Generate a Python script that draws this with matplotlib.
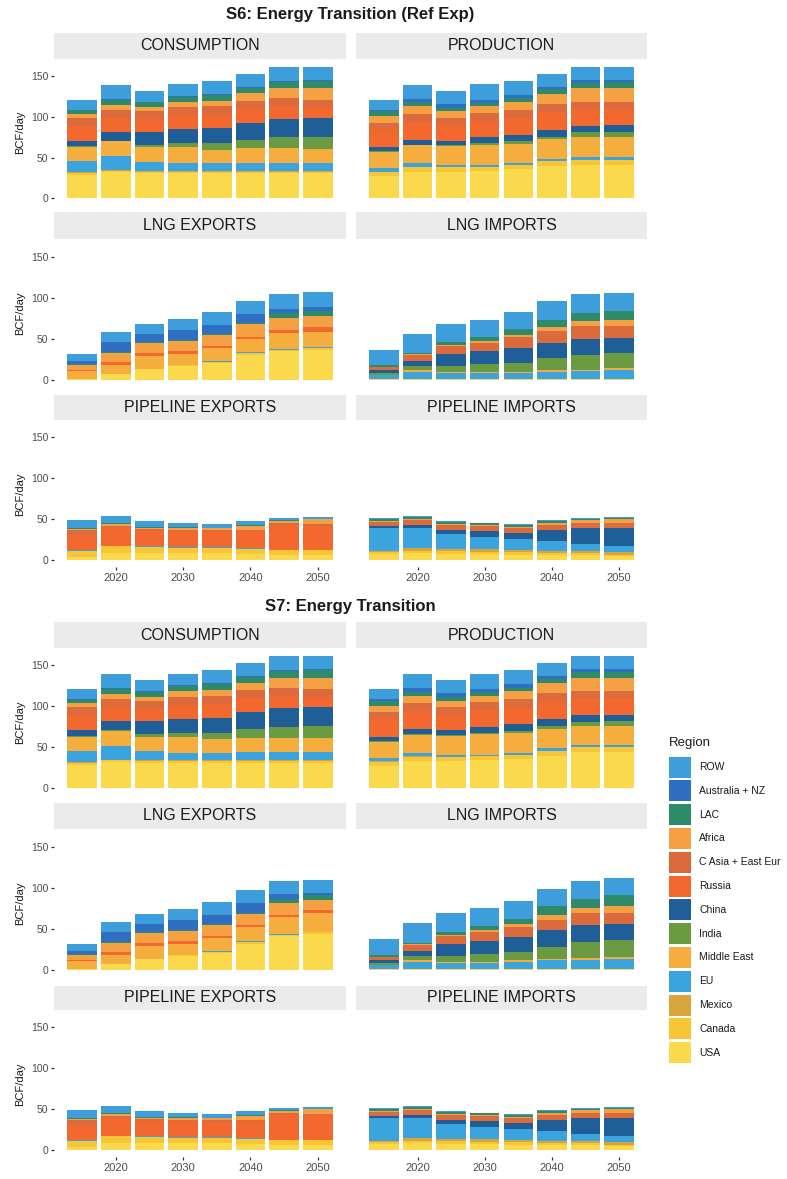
import numpy as np
import matplotlib
matplotlib.use("Agg")
import matplotlib.pyplot as plt
from matplotlib.patches import Rectangle

plt.rcParams["font.family"] = ["Liberation Sans", "DejaVu Sans"]

years = [2015, 2020, 2025, 2030, 2035, 2040, 2045, 2050]
x_ticks = [2020, 2030, 2040, 2050]
y_ticks = [0, 50, 100, 150]

# stacking order, bottom to top
regions = ["USA", "Canada", "Mexico", "EU", "Middle East", "India", "China",
           "Russia", "C Asia + East Eur", "Africa", "LAC", "Australia + NZ", "ROW"]
region_colors = ["#FAD94C", "#F8C535", "#D8A53C", "#3BA3DE", "#F5AE3E", "#6A9A42",
                 "#1F5E97", "#F2682E", "#DB6A3D", "#F5A042", "#2E8A68", "#2E6FC2",
                 "#3E9DDB"]

panel_names = ["CONSUMPTION", "PRODUCTION", "LNG EXPORTS", "LNG IMPORTS",
               "PIPELINE EXPORTS", "PIPELINE IMPORTS"]

# one row per year, columns follow `regions`
s6_consumption = [
    [29, 2, 1, 14, 17, 1, 7, 18, 10, 5, 4, 1, 12],
    [32, 2, 1, 17, 18, 1, 11, 17, 10, 6, 6, 1, 17],
    [31, 2, 1, 11, 18, 3, 16, 15, 10, 5, 6, 1, 13],
    [31, 2, 1, 9, 20, 5, 17, 17, 10, 7, 6, 1, 14],
    [31, 2, 1, 9, 17, 8, 18, 17, 10, 7, 7, 1, 16],
    [31, 2, 1, 10, 18, 10, 21, 17, 10, 9, 7, 1, 16],
    [31, 2, 1, 10, 18, 13, 23, 15, 10, 12, 8, 1, 18],
    [31, 2, 1, 10, 17, 15, 23, 13, 9, 14, 9, 1, 17],
]
s6_production = [
    [27, 5, 1, 4, 20, 1, 5, 22, 8, 8, 6, 2, 12],
    [33, 5, 1, 4, 22, 1, 6, 22, 10, 9, 5, 4, 17],
    [33, 5, 0, 3, 23, 1, 6, 19, 9, 8, 4, 5, 16],
    [34, 5, 0, 2, 25, 2, 7, 20, 10, 8, 4, 4, 19],
    [36, 5, 0, 2, 24, 3, 8, 21, 10, 10, 4, 4, 17],
    [40, 6, 0, 3, 24, 3, 8, 22, 10, 12, 6, 3, 16],
    [41, 6, 0, 4, 24, 6, 8, 21, 9, 16, 7, 3, 17],
    [41, 6, 0, 4, 24, 7, 8, 20, 9, 17, 7, 3, 16],
]
s6_lng_exports = [
    [1, 0, 0, 0, 10, 0, 0, 2, 0, 6, 1, 4, 8],
    [8, 0, 0, 0, 11, 0, 0, 3, 0, 11, 1, 12, 12],
    [14, 0, 0, 0, 16, 0, 0, 3, 0, 12, 1, 10, 12],
    [17, 1, 0, 1, 13, 0, 0, 3, 0, 13, 1, 12, 13],
    [21, 1, 0, 1, 16, 0, 0, 3, 0, 13, 1, 11, 16],
    [31, 2, 0, 1, 16, 0, 0, 3, 0, 15, 2, 10, 16],
    [35, 2, 0, 1, 19, 0, 0, 4, 0, 15, 5, 6, 17],
    [37, 2, 0, 1, 19, 0, 0, 5, 0, 14, 6, 5, 18],
]
s6_lng_imports = [
    [2, 0, 0, 4, 1, 2, 3, 0, 4, 0.5, 2, 0, 18],
    [2, 0, 0, 8.5, 2, 5, 6, 0, 7, 1, 2, 0, 23],
    [2, 0, 0, 7, 1, 7, 15, 0, 10, 1, 4, 0, 21],
    [2, 0, 0, 6.5, 2, 9, 16, 0, 10, 2, 5, 0, 21],
    [2, 0, 0, 6.5, 2, 11, 18, 0, 13, 2.5, 7, 0, 21],
    [2, 0, 0, 8, 2, 15, 18, 0, 15, 4, 9, 0, 23],
    [2, 0, 0, 9, 2, 18, 19.5, 0, 15, 6, 10, 0, 22.5],
    [2, 0, 0, 10, 2.5, 19, 18, 0, 14, 8, 11, 0, 21.5],
]
s6_pipeline_exports = [
    [4, 7, 0, 1.5, 0, 0, 0, 19, 5, 1.5, 1.5, 0, 10],
    [9, 8, 0, 1, 0, 0, 0, 22, 2, 2, 1, 0, 9],
    [9, 7, 0, 1, 0, 0, 0, 19, 2, 2, 1, 0, 7],
    [9, 6.5, 0, 1, 0, 0, 0, 19, 2, 2, 1, 0, 5.5],
    [9, 6, 0, 1, 0, 0, 0, 19, 2, 2, 0.5, 0, 4.5],
    [8, 6, 0, 0.5, 0, 0, 0, 21, 2, 4.5, 1, 0, 5],
    [7, 6, 0, 0, 0, 0, 0, 30, 2, 3.5, 1, 0, 2.5],
    [7, 6, 0, 0, 0, 0, 0, 29, 2, 6, 1, 0, 2],
]
s6_pipeline_imports = [
    [8, 2, 1, 28, 0, 0, 3, 0, 5, 1, 2, 0, 2],
    [9, 3, 3, 25, 0, 0, 3, 0, 6, 2, 2, 0, 1],
    [8, 3, 3, 18, 0, 0, 5, 0, 6, 1.5, 2, 0, 1.5],
    [7.5, 3, 3, 15.5, 0, 0, 7, 0, 6, 1, 2, 0, 1],
    [7, 3, 3, 12.5, 0, 0, 8, 0, 6, 1.5, 2, 0, 1],
    [6, 3, 3, 11.5, 0, 0, 14, 0, 6, 2, 2, 0, 1.5],
    [6, 2.5, 3, 9, 0, 0, 19.5, 0, 6, 3.5, 1.5, 0, 1],
    [5, 2, 3, 7.5, 0, 0, 21.5, 0, 6, 5, 1.5, 0, 1.5],
]

s7_consumption = s6_consumption  # reads the same in both scenarios
s7_production = [
    [27, 5, 1, 4, 20, 1, 5, 22, 8, 8, 6, 2, 12],
    [33, 5, 1, 4, 22, 1, 6, 22, 10, 9, 5, 4, 17],
    [33, 5, 0, 3, 23, 1, 6, 19, 9, 8, 4, 5, 16],
    [34, 5, 0, 2, 25, 2, 7, 20, 10, 8, 4, 4, 19],
    [36, 5, 0, 2, 24, 3, 8, 21, 10, 10, 4, 4, 17],
    [40, 6, 0, 3, 24, 3, 8, 22, 10, 12, 6, 3, 16],
    [44, 6, 0, 3, 23, 5, 8, 21, 9, 16, 7, 3, 17],
    [44, 6, 0, 3, 23, 6, 8, 20, 9, 16, 7, 3, 17],
]
s7_lng_exports = [
    [1, 0, 0, 0, 10, 0, 0, 2, 0, 6, 1, 4, 8],
    [8, 0, 0, 0, 11, 0, 0, 3, 0, 11, 1, 12, 12],
    [14, 0, 0, 0, 16, 0, 0, 3, 0, 12, 1, 10, 12],
    [17, 1, 0, 1, 13, 0, 0, 3, 0, 13, 1, 12, 13],
    [21, 1, 0, 1, 16, 0, 0, 3, 0, 13, 1, 11, 16],
    [32, 2, 0, 1, 17, 0, 0, 3, 0, 13, 2, 11, 16],
    [41, 2, 0, 1, 20, 0, 0, 3, 0, 14, 6, 5, 16],
    [44, 2, 0, 1, 22, 0, 0, 4, 0, 12, 6, 3, 16],
]
s7_lng_imports = [
    [2, 0, 0, 4, 1, 2, 3, 0, 4, 0.5, 2, 0, 19],
    [2, 0, 0, 8.5, 2, 5, 6, 0, 7, 1, 2, 0, 24],
    [2, 0, 0, 7, 1, 7, 15, 0, 10, 1, 4, 0, 23],
    [2, 0, 0, 6.5, 2, 9, 16, 0, 11, 2, 5, 0, 22],
    [2, 0, 0, 8, 2, 10, 18, 0, 12, 4, 6, 0, 22],
    [2, 0, 0, 10, 2, 14, 20.5, 0, 13, 5, 11, 0, 20.5],
    [2, 0, 0, 11, 2, 19.5, 20.5, 0, 14, 6, 12, 0, 21.5],
    [2, 0, 0, 12, 2, 21, 19, 0, 14, 8, 13.5, 0, 20.5],
]
s7_pipeline_exports = s6_pipeline_exports
s7_pipeline_imports = s6_pipeline_imports

scenario_titles = ["S6: Energy Transition (Ref Exp)", "S7: Energy Transition"]
scenario_tables = [
    [s6_consumption, s6_production, s6_lng_exports, s6_lng_imports,
     s6_pipeline_exports, s6_pipeline_imports],
    [s7_consumption, s7_production, s7_lng_exports, s7_lng_imports,
     s7_pipeline_exports, s7_pipeline_imports],
]

# layout in pixels
W, H = 787, 1179
col_px = [(54, 346), (356, 647)]
title_px = [15, 606]
# (strip top, panel top, panel bottom)
row_px = [
    [(33, 60, 205), (212, 240, 387), (395, 421, 567)],
    [(622, 649, 795), (803, 830, 977), (986, 1011, 1157)],
]
bar_width = 4.4
xlim = (2010.8, 2054.2)
ylim = (-8.1, 170)
strip_color = "#EBEBEB"
tick_color = "#4D4D4D"

# legend placement (pixels)
leg_x, leg_title_y, leg_first_y, leg_pitch = 669, 743, 767, 23.8
key_w, key_h, label_gap = 22, 21, 8


def px_rect(x0, y0, x1, y1):
    return [x0 / W, 1 - y1 / H, (x1 - x0) / W, (y1 - y0) / H]


def draw_stack(ax, table):
    vals = np.array(table, dtype=float)
    bottom = np.zeros(len(years))
    for j in range(len(regions)):
        ax.bar(years, vals[:, j], width=bar_width, bottom=bottom,
               color=region_colors[j], linewidth=0)
        bottom += vals[:, j]


fig = plt.figure(figsize=(W / 100, H / 100), dpi=100)

for s, title in enumerate(scenario_titles):
    fig.text((col_px[0][0] + col_px[1][1]) / 2 / W, 1 - title_px[s] / H, title,
             ha="center", va="center", fontsize=12, fontweight="bold", color="#1A1A1A")
    for p, name in enumerate(panel_names):
        r, c = divmod(p, 2)
        x0, x1 = col_px[c]
        strip_top, top, bot = row_px[s][r]

        sax = fig.add_axes(px_rect(x0, strip_top, x1, top - 1))
        sax.set_facecolor(strip_color)
        sax.set_xticks([])
        sax.set_yticks([])
        for sp in sax.spines.values():
            sp.set_visible(False)
        sax.text(0.5, 0.5, name, ha="center", va="center", fontsize=11.5,
                 color="#1A1A1A", transform=sax.transAxes)

        ax = fig.add_axes(px_rect(x0, top, x1, bot))
        draw_stack(ax, scenario_tables[s][p])
        ax.set_xlim(*xlim)
        ax.set_ylim(*ylim)
        for sp in ax.spines.values():
            sp.set_visible(False)
        ax.set_yticks(y_ticks)
        ax.set_xticks(x_ticks)
        ax.tick_params(colors="#333333", labelcolor=tick_color, length=2.5,
                       width=0.9, pad=1.5)
        ax.tick_params(axis="y", labelsize=7.5)
        ax.tick_params(axis="x", labelsize=8)
        if c == 0:
            ax.set_ylabel("BCF/day", fontsize=8, color="#1A1A1A", labelpad=4)
        else:
            ax.tick_params(axis="y", left=False, labelleft=False)
        if r < 2:
            ax.tick_params(axis="x", bottom=False, labelbottom=False)

# legend drawn on a pixel-space overlay so key size and spacing match
lax = fig.add_axes([0, 0, 1, 1], facecolor="none")
lax.set_xlim(0, W)
lax.set_ylim(H, 0)
lax.axis("off")
lax.text(leg_x, leg_title_y, "Region", ha="left", va="center", fontsize=9.5,
         color="#1A1A1A")
for i, (name, col) in enumerate(zip(regions[::-1], region_colors[::-1])):
    cy = leg_first_y + i * leg_pitch
    lax.add_patch(Rectangle((leg_x, cy - key_h / 2), key_w, key_h,
                            facecolor=col, edgecolor="none"))
    lax.text(leg_x + key_w + label_gap, cy, name, ha="left", va="center",
             fontsize=7.5, color="#1A1A1A")

fig.savefig("out.png", dpi=100)
